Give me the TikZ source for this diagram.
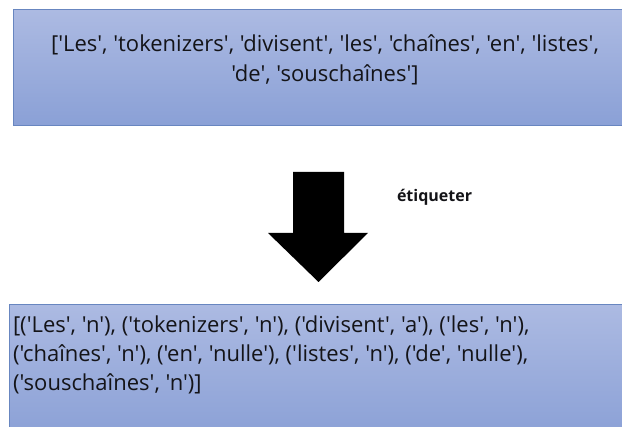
\documentclass[tikz,border=0pt]{standalone}
\usepackage{fontspec}
\newfontfamily\listfont{Open Sans}
\definecolor{boxtop}{RGB}{172,186,226}
\definecolor{boxbottom}{RGB}{138,160,214}
\definecolor{boxline}{RGB}{104,134,192}
\definecolor{inktext}{RGB}{20,20,24}
\tikzset{
  listbox/.style={top color=boxtop,bottom color=boxbottom,draw=boxline,line width=1pt},
  listtext/.style={inner sep=0pt,outer sep=0pt,text=inktext,font=\listfont\fontsize{22}{26}\selectfont},
  steplabel/.style={inner sep=0pt,outer sep=0pt,anchor=west,text=inktext,font=\listfont\bfseries\fontsize{16}{19}\selectfont}
}
\begin{document}
\begin{tikzpicture}[x=1pt,y=-1pt]
\path[use as bounding box] (0,0) rectangle (622,427);
% words box
\path[listbox] (13,10) rectangle (640,126);
\node[listtext,anchor=center] (wordsa) at (325,45) {['Les', 'tokenizers', 'divisent', 'les', 'chaînes', 'en', 'listes',};
\node[listtext,anchor=center] (wordsb) at (325,75) {'de', 'souschaînes']};
% block arrow
\path[fill=black] (293,172) -- (344,172) -- (344,233) -- (368,233) -- (318.5,282) -- (268,233) -- (293,233) -- cycle;
\node[steplabel] (tag) at (397,197) {étiqueter};
% tagged box
\path[listbox] (9,305) rectangle (640,440);
\node[listtext,anchor=west] (taggeda) at (13,326) {[('Les', 'n'), ('tokenizers', 'n'), ('divisent', 'a'), ('les', 'n'),};
\node[listtext,anchor=west] (taggedb) at (13,355) {('chaînes', 'n'), ('en', 'nulle'), ('listes', 'n'), ('de', 'nulle'),};
\node[listtext,anchor=west] (taggedc) at (13,384) {('souschaînes', 'n')]};
\end{tikzpicture}
\end{document}
